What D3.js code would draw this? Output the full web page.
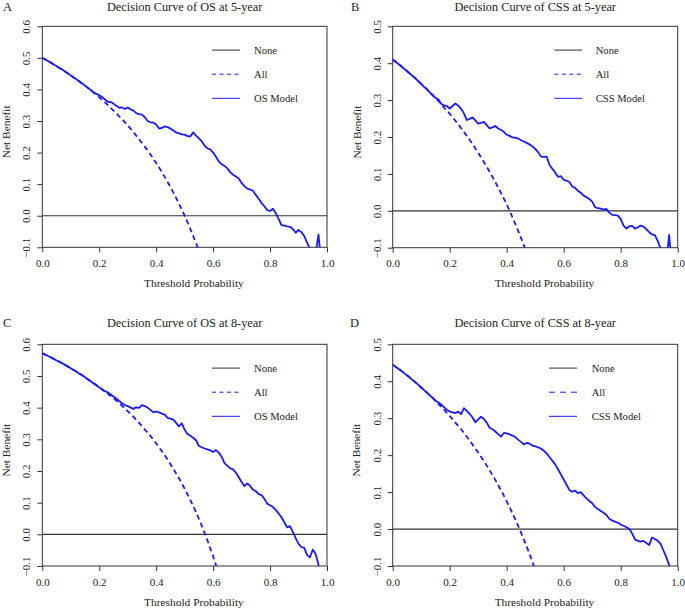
<!DOCTYPE html>
<html><head><meta charset="utf-8">
<script src="https://cdn.jsdelivr.net/npm/d3@7"></script>
<style>
body{margin:0;background:#fff}
svg{display:block}
text{font-family:"Liberation Serif","Times New Roman",serif;fill:#222}
</style>
</head><body>
<svg id="c" width="685" height="609"></svg>
<script>
// ---- data ----
const thresholds = [0.00,0.01,0.02,0.03,0.04,0.05,0.06,0.07,0.08,0.09,
0.10,0.11,0.12,0.13,0.14,0.15,0.16,0.17,0.18,0.19,
0.20,0.21,0.22,0.23,0.24,0.25,0.26,0.27,0.28,0.29,
0.30,0.31,0.32,0.33,0.34,0.35,0.36,0.37,0.38,0.39,
0.40,0.41,0.42,0.43,0.44,0.45,0.46,0.47,0.48,0.49,
0.50,0.51,0.52,0.53,0.54,0.55,0.56,0.57,0.58,0.59,
0.60,0.61,0.62,0.63,0.64,0.65,0.66,0.67,0.68,0.69,
0.70,0.71,0.72,0.73,0.74,0.75,0.76,0.77,0.78,0.79,
0.80,0.81,0.82,0.83,0.84,0.85,0.86,0.87,0.88,0.89,
0.90,0.91,0.92,0.93,0.94,0.95,0.96,0.97,0.98,0.99];

const allThresholds = [0.00,0.02,0.04,0.06,0.08,0.10,0.12,0.14,0.16,0.18,
0.20,0.22,0.24,0.26,0.28,0.30,0.32,0.34,0.36,0.38,
0.40,0.42,0.44,0.46,0.48,0.50,0.52,0.54,0.56,0.58,0.60,0.62];

const osModel5 = [0.500,0.495,0.490,0.485,0.479,0.474,0.468,0.463,0.457,0.451,
0.444,0.438,0.432,0.425,0.419,0.412,0.405,0.398,0.391,0.386,
0.382,0.376,0.368,0.361,0.360,0.355,0.348,0.342,0.343,0.338,
0.343,0.337,0.333,0.325,0.322,0.320,0.312,0.300,0.296,0.295,
0.289,0.276,0.278,0.283,0.281,0.276,0.270,0.264,0.261,0.258,
0.257,0.252,0.251,0.264,0.254,0.245,0.236,0.222,0.213,0.210,
0.200,0.187,0.172,0.163,0.158,0.150,0.138,0.130,0.124,0.118,
0.104,0.094,0.086,0.083,0.079,0.066,0.054,0.040,0.030,0.018,
0.015,0.022,0.008,-0.010,-0.030,-0.031,-0.034,-0.035,-0.042,-0.054,
-0.045,-0.052,-0.064,-0.085,-0.105,-0.140,-0.120,-0.060,-0.150,-0.250];
const osAll5 = [0.500,0.490,0.479,0.468,0.457,0.444,0.432,0.419,0.405,0.390,
0.375,0.359,0.342,0.324,0.306,0.286,0.265,0.242,0.219,0.194,
0.167,0.138,0.107,0.074,0.038,0.000,-0.042,-0.087,-0.136];

const cssModel5 = [0.410,0.404,0.398,0.392,0.385,0.379,0.372,0.365,0.358,0.351,
0.344,0.336,0.329,0.321,0.313,0.306,0.302,0.290,0.286,0.284,
0.277,0.284,0.291,0.285,0.276,0.264,0.246,0.249,0.253,0.245,
0.236,0.238,0.241,0.232,0.223,0.226,0.230,0.223,0.219,0.214,
0.206,0.203,0.199,0.198,0.196,0.192,0.188,0.184,0.180,0.175,
0.168,0.159,0.147,0.146,0.147,0.125,0.114,0.104,0.092,0.094,
0.084,0.082,0.078,0.066,0.062,0.054,0.049,0.041,0.037,0.032,
0.025,0.010,0.007,0.006,0.003,0.005,-0.005,-0.011,-0.012,-0.013,
-0.022,-0.040,-0.048,-0.042,-0.041,-0.048,-0.045,-0.040,-0.043,-0.050,
-0.058,-0.064,-0.066,-0.082,-0.102,-0.130,-0.140,-0.065,-0.160,-0.250];
const cssAll5 = [0.410,0.398,0.385,0.372,0.359,0.344,0.330,0.314,0.298,0.280,
0.263,0.244,0.224,0.203,0.181,0.157,0.132,0.106,0.078,0.048,
0.017,-0.017,-0.054,-0.093,-0.135];

const osModel8 = [0.572,0.567,0.563,0.559,0.554,0.549,0.545,0.540,0.535,0.530,
0.524,0.519,0.513,0.507,0.502,0.496,0.489,0.483,0.476,0.470,
0.464,0.457,0.452,0.448,0.442,0.435,0.429,0.421,0.414,0.408,
0.405,0.400,0.396,0.401,0.399,0.408,0.405,0.400,0.393,0.385,
0.388,0.385,0.381,0.378,0.368,0.365,0.362,0.352,0.341,0.350,
0.330,0.317,0.311,0.305,0.297,0.279,0.275,0.271,0.268,0.265,
0.260,0.266,0.258,0.245,0.225,0.216,0.208,0.205,0.195,0.180,
0.165,0.152,0.161,0.153,0.141,0.136,0.127,0.124,0.112,0.097,
0.092,0.086,0.077,0.066,0.054,0.038,0.022,0.026,0.008,-0.012,
-0.030,-0.040,-0.043,-0.065,-0.073,-0.048,-0.062,-0.095,-0.160,-0.250];
const osAll8 = [0.572,0.563,0.554,0.545,0.535,0.524,0.514,0.502,0.490,0.478,
0.465,0.451,0.437,0.422,0.406,0.389,0.371,0.352,0.331,0.310,
0.287,0.262,0.236,0.207,0.177,0.144,0.108,0.070,0.027,-0.019,
-0.070,-0.126];

const cssModel8 = [0.445,0.439,0.434,0.428,0.422,0.416,0.410,0.403,0.397,0.390,
0.383,0.376,0.369,0.362,0.355,0.347,0.343,0.337,0.330,0.323,
0.318,0.316,0.314,0.318,0.311,0.327,0.320,0.312,0.302,0.289,
0.297,0.304,0.298,0.288,0.274,0.270,0.264,0.257,0.250,0.260,
0.259,0.256,0.253,0.249,0.242,0.236,0.229,0.233,0.231,0.226,
0.224,0.221,0.218,0.212,0.205,0.195,0.185,0.175,0.162,0.148,
0.134,0.120,0.106,0.101,0.104,0.097,0.100,0.091,0.083,0.076,
0.070,0.060,0.054,0.049,0.044,0.038,0.028,0.023,0.020,0.017,
0.012,0.009,0.005,0.001,-0.012,-0.028,-0.032,-0.034,-0.032,-0.038,
-0.043,-0.023,-0.027,-0.032,-0.040,-0.058,-0.076,-0.097,-0.140,-0.200];
const cssAll8 = [0.445,0.434,0.422,0.410,0.397,0.383,0.369,0.355,0.339,0.323,
0.306,0.288,0.270,0.250,0.229,0.207,0.184,0.159,0.133,0.105,
0.075,0.043,0.009,-0.028,-0.067,-0.110];

const xTicks = [0.0,0.2,0.4,0.6,0.8,1.0];
const yTicksOS = [-0.1,0.0,0.1,0.2,0.3,0.4,0.5,0.6];
const yTicksCSS = [-0.1,0.0,0.1,0.2,0.3,0.4,0.5];
const panelLetters = ["A","B","C","D"];
const panelTitles = ["Decision Curve of OS at 5-year","Decision Curve of CSS at 5-year",
                     "Decision Curve of OS at 8-year","Decision Curve of CSS at 8-year"];
const modelNames = ["OS Model","CSS Model","OS Model","CSS Model"];
const legendNames = ["None","All"];
const xLabel = "Threshold Probability";
const yLabel = "Net Benefit";

// ---- layout ----
const panels = [
  {model: osModel5, all: osAll5, yTicks: yTicksOS, L:42.3, R:327, T:26.3, B:247.3, lx:212, tx:254, dash:"4,3.5", yl:9.5, lt:3, tt:15.6},
  {model: cssModel5, all: cssAll5, yTicks: yTicksCSS, L:392.7, R:677.7, T:26.3, B:247.7, lx:554.3, tx:595.7, dash:"4,3.5", yl:361, lt:351, tt:15.6},
  {model: osModel8, all: osAll8, yTicks: yTicksOS, L:42.3, R:327, T:344.3, B:566, lx:212, tx:254, dash:"4,3.5", yl:10, lt:3, tt:17.3},
  {model: cssModel8, all: cssAll8, yTicks: yTicksCSS, L:392.7, R:677.7, T:344.3, B:566, lx:549, tx:591.7, dash:"6,5", yl:360, lt:350, tt:17.3}
];

const svg = d3.select("#c");
const blue = "#1a1aff";
const dark = "#333";

panels.forEach((p, i) => {
  const x = d3.scaleLinear().domain([0,1]).range([p.L, p.R]);
  const yMax = p.yTicks[p.yTicks.length-1];
  const y = d3.scaleLinear().domain([-0.1, yMax]).range([p.B, p.T]);
  const g = svg.append("g");
  const cid = "clip"+i;
  svg.append("clipPath").attr("id", cid).append("rect")
    .attr("x", p.L).attr("y", p.T).attr("width", p.R-p.L).attr("height", p.B-p.T);

  // x axis
  const xa = g.append("g").attr("transform", `translate(0,${p.B})`)
    .call(d3.axisBottom(x).tickValues(xTicks).tickSize(5).tickSizeOuter(0).tickPadding(3).tickFormat(d3.format(".1f")));
  xa.attr("font-family", null);
  xa.select(".domain").remove();
  xa.selectAll(".tick line").attr("stroke", dark);
  xa.selectAll("text").attr("font-size", 11).attr("fill", "#222")
    .attr("y", 19.7).attr("dy", null);

  // y axis
  const ya = g.append("g").attr("transform", `translate(${p.L},0)`)
    .call(d3.axisLeft(y).tickValues(p.yTicks).tickSize(5).tickSizeOuter(0).tickFormat(d3.format(".1f")));
  ya.attr("font-family", null);
  ya.select(".domain").remove();
  ya.selectAll(".tick line").attr("stroke", dark);
  ya.selectAll("text").attr("font-size", 11).attr("fill", "#222")
    .attr("transform", "rotate(-90)").attr("x", 0).attr("y", -12).attr("dy", null)
    .attr("text-anchor", "middle");

  // box
  g.append("rect").attr("x", p.L).attr("y", p.T).attr("width", p.R-p.L).attr("height", p.B-p.T)
    .attr("fill", "none").attr("stroke", dark).attr("stroke-width", 1);

  // None line
  g.append("line").attr("x1", x(0)).attr("x2", x(1)).attr("y1", y(0)).attr("y2", y(0))
    .attr("stroke", dark).attr("stroke-width", 1.2);

  const cg = g.append("g").attr("clip-path", `url(#${cid})`);
  // All line
  cg.append("path").datum(p.all.map((v, k) => [allThresholds[k], v]))
    .attr("d", d3.line().x(d => x(d[0])).y(d => y(d[1])).curve(d3.curveMonotoneX))
    .attr("fill", "none").attr("stroke", blue).attr("stroke-width", 1.8).attr("stroke-dasharray", "5,3.5");
  // Model line
  cg.append("path").datum(p.model.map((v, k) => [thresholds[k], v]))
    .attr("d", d3.line().x(d => x(d[0])).y(d => y(d[1])))
    .attr("fill", "none").attr("stroke", blue).attr("stroke-width", 1.8).attr("stroke-linejoin", "round");

  // legend
  const rows = [legendNames[0], legendNames[1], modelNames[i]];
  rows.forEach((lab, r) => {
    const ly = p.T + 23.8 + r*24.1;
    g.append("line").attr("x1", p.lx).attr("x2", p.lx+28).attr("y1", ly).attr("y2", ly)
      .attr("stroke", r === 0 ? dark : blue).attr("stroke-width", 1)
      .attr("stroke-dasharray", r === 1 ? p.dash : null);
    g.append("text").attr("x", p.tx).attr("y", ly+3.7).attr("font-size", 10.6).text(lab);
  });

  // title, letter, labels
  g.append("text").attr("x", (p.L+p.R)/2).attr("y", p.T-p.tt).attr("text-anchor", "middle")
    .attr("font-size", 12.3).text(panelTitles[i]);
  g.append("text").attr("x", p.lt).attr("y", p.T-p.tt).attr("font-size", 12.5).text(panelLetters[i]);
  g.append("text").attr("x", (p.L+p.R)/2 + 9.3).attr("y", p.B+39.7).attr("text-anchor", "middle")
    .attr("font-size", 11.4).text(xLabel);
  g.append("text").attr("transform", `translate(${p.yl},${(p.T+p.B)/2 - 5})rotate(-90)`)
    .attr("text-anchor", "middle").attr("font-size", 11.4).text(yLabel);
});
</script>
</body></html>
